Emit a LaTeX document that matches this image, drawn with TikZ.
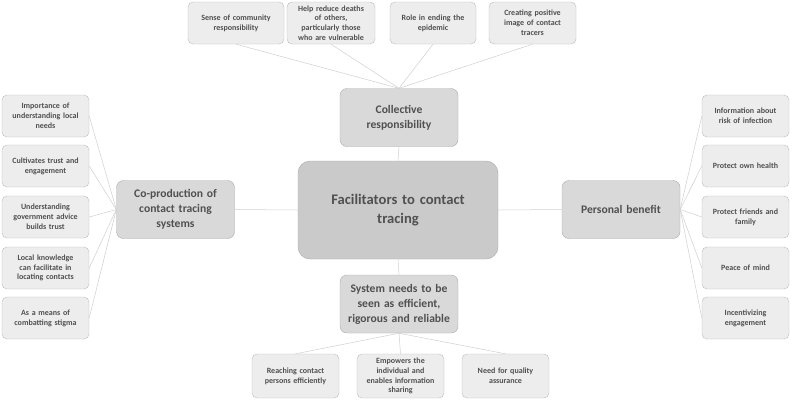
\documentclass[tikz,border=0pt]{standalone}
\usepackage{fontspec}
\setmainfont{Carlito}
\usepackage{xcolor}
\usepackage{tikz}
\definecolor{leaffill}{HTML}{EDEDED}
\definecolor{leafline}{HTML}{BDBDBD}
\definecolor{themefill}{HTML}{D9D9D9}
\definecolor{themeline}{HTML}{ABABAB}
\definecolor{corefill}{HTML}{CACACA}
\definecolor{txtgray}{HTML}{505050}
\definecolor{linkgray}{HTML}{D0D0D0}

\begin{document}
\begin{tikzpicture}[x=1pt,y=-1pt,
  leaf/.style={draw=leafline,fill=leaffill,rounded corners=5pt,inner sep=0pt,
    minimum width=87pt,minimum height=42pt,text width=86pt,align=center,
    text=txtgray,font=\bfseries\fontsize{8}{9.8}\selectfont},
  theme/.style={draw=themeline,fill=themefill,rounded corners=7pt,inner sep=0pt,
    minimum width=118pt,minimum height=58pt,text width=116pt,align=center,
    text=txtgray,font=\bfseries\fontsize{11.6}{15}\selectfont},
  core/.style={draw=themeline,fill=corefill,rounded corners=12pt,inner sep=0pt,
    minimum width=200pt,minimum height=98pt,text width=190pt,align=center,
    text=txtgray,font=\bfseries\fontsize{14.6}{19}\selectfont},
  link/.style={draw=linkgray,line width=0.5pt}]
  \useasboundingbox (0,0) rectangle (792,400);
  \fill[white] (0,0) rectangle (792,400);

  % centre and themes
  \node[core] (core) at (398,210) {Facilitators to contact\\tracing};
  \node[theme] (coll) at (399,117.5) {Collective\\responsibility};
  \node[theme] (coprod) at (175.5,209.5) {Co-production of\\contact tracing\\systems};
  \node[theme] (pers) at (621,209.5) {Personal benefit};
  \node[theme] (sys) at (399,304) {System needs to be\\seen as efficient,\\rigorous and reliable};

  % top leaves
  \node[leaf,minimum width=96pt] (t1) at (236,23) {Sense of community\\responsibility};
  \node[leaf,minimum width=88pt] (t2) at (331,23) {Help reduce deaths\\of others,\\particularly those\\who are vulnerable};
  \node[leaf,minimum width=86pt] (t3) at (433,23) {Role in ending the\\epidemic};
  \node[leaf] (t4) at (532.5,23) {Creating positive\\image of contact\\tracers};

  % left leaves
  \node[leaf] (l1) at (45.5,116) {Importance of\\understanding local\\needs};
  \node[leaf] (l2) at (45.5,166) {Cultivates trust and\\engagement};
  \node[leaf] (l3) at (45.5,217) {Understanding\\government advice\\builds trust};
  \node[leaf] (l4) at (45.5,268) {Local knowledge\\can facilitate in\\locating contacts};
  \node[leaf] (l5) at (45.5,318) {As a means of\\combatting stigma};

  % right leaves
  \node[leaf] (r1) at (745.5,116) {Information about\\risk of infection};
  \node[leaf] (r2) at (745.5,166) {Protect own health};
  \node[leaf] (r3) at (745.5,217) {Protect friends and\\family};
  \node[leaf] (r4) at (745.5,268) {Peace of mind};
  \node[leaf] (r5) at (745.5,318) {Incentivizing\\engagement};

  % bottom leaves
  \node[leaf,minimum height=44pt] (b1) at (295.5,376) {Reaching contact\\persons efficiently};
  \node[leaf,minimum height=44pt] (b2) at (400.5,376) {Empowers the\\individual and\\enables information\\sharing};
  \node[leaf,minimum height=44pt] (b3) at (505.5,376) {Need for quality\\assurance};

  % connectors
  \draw[link] (core.north) -- (coll.south);
  \draw[link] (core.west) -- (coprod.east);
  \draw[link] (core.east) -- (pers.west);
  \draw[link] (core.south) -- (sys.north);
  \foreach \t in {t1,t2,t3,t4}{ \draw[link] (\t.south) -- (coll.north); }
  \foreach \l in {l1,l2,l3,l4,l5}{ \draw[link] (\l.east) -- (coprod.west); }
  \foreach \r in {r1,r2,r3,r4,r5}{ \draw[link] (pers.east) -- (\r.west); }
  \foreach \b in {b1,b2,b3}{ \draw[link] (sys.south) -- (\b.north); }
\end{tikzpicture}
\end{document}
